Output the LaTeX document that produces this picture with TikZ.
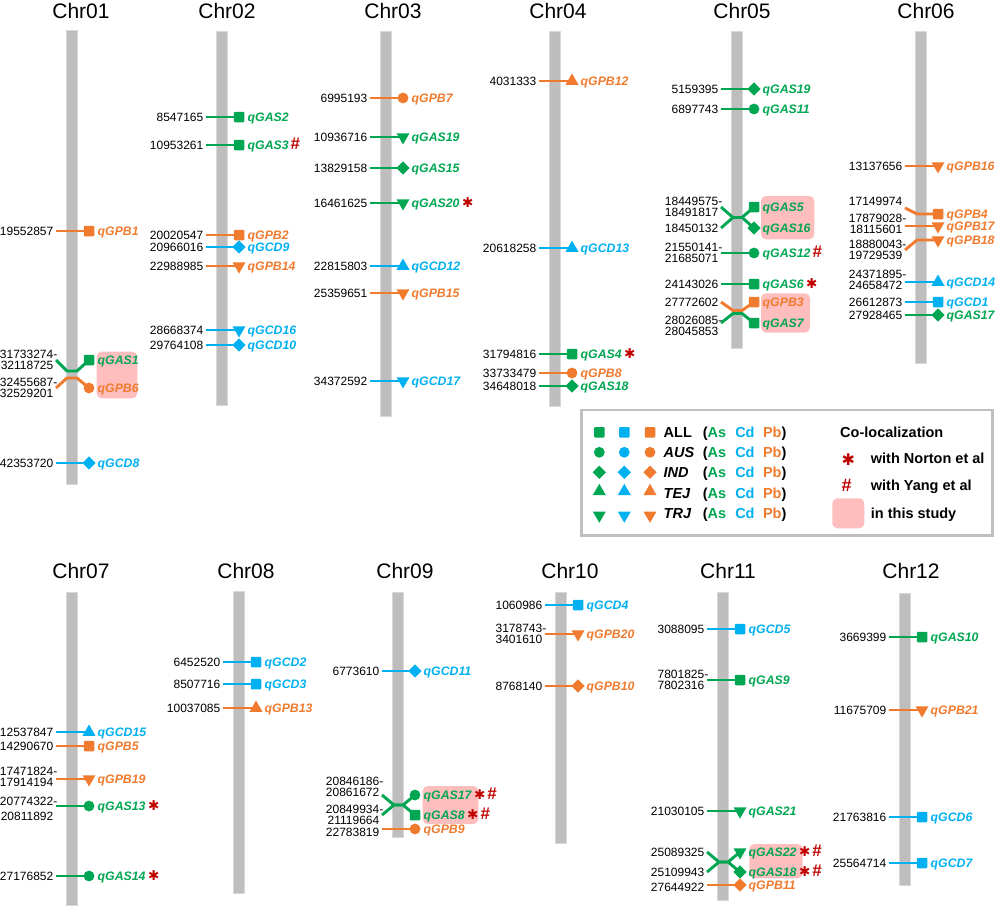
\documentclass[tikz,border=0pt]{standalone}
\usepackage{fontspec}
\setmainfont{Liberation Sans}
\newfontfamily\symfont{DejaVu Sans}
\usetikzlibrary{shapes.geometric}

\definecolor{asgreen}{RGB}{0,166,81}
\definecolor{cdblue}{RGB}{0,176,240}
\definecolor{pborange}{RGB}{240,122,45}
\definecolor{symred}{RGB}{192,0,0}
\definecolor{hlpink}{RGB}{255,190,190}
\definecolor{bargray}{RGB}{190,190,190}
\definecolor{framegray}{RGB}{191,191,191}

\tikzstyle{chrbar} = [fill=bargray, draw=bargray!60, line width=0.6pt]
\tikzstyle{chrname} = [font=\fontsize{21}{24}\selectfont, anchor=base, inner sep=0pt]
\tikzstyle{numtext} = [font=\fontsize{12}{11}\selectfont, align=right, anchor=east, inner sep=2.5pt]
\tikzstyle{qlabel} = [font=\fontsize{12.3}{14}\selectfont\bfseries\itshape, anchor=west, inner sep=0pt, text height=8.8pt, text depth=0pt]
\tikzstyle{qline} = [line width=2.9pt]
\tikzstyle{sqm} = [rectangle, draw=none, minimum size=10.5pt, inner sep=0pt, rounded corners=1pt]
\tikzstyle{cirm} = [circle, draw=none, minimum size=10.8pt, inner sep=0pt]
\tikzstyle{diam} = [diamond, draw=none, minimum size=13.5pt, inner sep=0pt]
\tikzstyle{tum} = [regular polygon, regular polygon sides=3, draw=none, minimum size=15pt, inner sep=0pt]
\tikzstyle{tdm} = [regular polygon, regular polygon sides=3, shape border rotate=180, draw=none, minimum size=15pt, inner sep=0pt]
\tikzstyle{hlbox} = [fill=hlpink, rounded corners=5pt]
\tikzstyle{legtext} = [font=\fontsize{14.5}{16}\selectfont\bfseries, anchor=west, inner sep=0pt, text height=10.4pt, text depth=0pt]

% hanging hyphen, Norton and Yang marks
\newcommand{\hy}{\rlap{-}}
\newcommand{\nor}{\hspace{2.5pt}{\normalfont\symfont\fontsize{13.5}{13.5}\selectfont\textcolor{symred}{✱}}}
\newcommand{\yan}{\hspace{2pt}{\normalfont\bfseries\fontsize{17}{17}\selectfont\textcolor{symred}{\#}}}

% [number options]{name}{bar x}{y}{colour}{marker}{position}{label}
\newcommand{\qtlnode}[8][]{%
  \coordinate (#2s) at (#3-16,#4);
  \node[numtext, #1] (#2n) at (#2s) {#7};
  \node[#6, fill=#5] (#2m) at (#3+17,#4) {};
  \node[qlabel, text=#5] (#2l) at (#3+25.5,#4) {#8};
}
\newcommand{\qtl}[8][]{%
  \qtlnode[#1]{#2}{#3}{#4}{#5}{#6}{#7}{#8}
  \draw[qline, draw=#5] (#2s) -- (#2m.center);
}

% {name}{y}{marker}{group}
\newcommand{\legrow}[4]{%
  \node[#3, fill=asgreen] (#1a) at (599.3,#2) {};
  \node[#3, fill=cdblue] (#1c) at (624.3,#2) {};
  \node[#3, fill=pborange] (#1p) at (650,#2) {};
  \node[legtext] (#1t) at (663.5,#2) {#4};
  \node[legtext] (#1e) at (702.7,#2) {(\textcolor{asgreen}{As}\hspace{9pt}\textcolor{cdblue}{Cd}\hspace{8.4pt}\textcolor{pborange}{Pb})};
}

\begin{document}
\begin{tikzpicture}[x=1pt, y=-1pt]
            \useasboundingbox (0,0) rectangle (1000,907);

            % Chromosome names
            \node[chrname] (t01) at (81,18.3) {Chr01};
            \node[chrname] (t02) at (227,18.3) {Chr02};
            \node[chrname] (t03) at (393,18.3) {Chr03};
            \node[chrname] (t04) at (558,18.3) {Chr04};
            \node[chrname] (t05) at (742,18.3) {Chr05};
            \node[chrname] (t06) at (926,18.3) {Chr06};
            \node[chrname] (t07) at (81,578.3) {Chr07};
            \node[chrname] (t08) at (246,578.3) {Chr08};
            \node[chrname] (t09) at (405,578.3) {Chr09};
            \node[chrname] (t10) at (570,578.3) {Chr10};
            \node[chrname] (t11) at (728,578.3) {Chr11};
            \node[chrname] (t12) at (911,578.3) {Chr12};

            % Chromosome bars
            \filldraw[chrbar] (66.7,30) rectangle (77.3,484);
            \filldraw[chrbar] (216.7,31) rectangle (227.3,405);
            \filldraw[chrbar] (380.7,31) rectangle (391.3,416);
            \filldraw[chrbar] (549.7,31) rectangle (560.3,406);
            \filldraw[chrbar] (731.7,31) rectangle (742.3,348);
            \filldraw[chrbar] (915.7,31) rectangle (926.3,363);
            \filldraw[chrbar] (66.7,592) rectangle (77.3,905);
            \filldraw[chrbar] (233.7,591) rectangle (244.3,893);
            \filldraw[chrbar] (392.7,592) rectangle (403.3,837);
            \filldraw[chrbar] (555.7,592) rectangle (566.3,843);
            \filldraw[chrbar] (717.7,592) rectangle (728.3,900);
            \filldraw[chrbar] (899.4,593) rectangle (910,885);

            % Co-localized in this study
            \fill[hlbox] (96.7,351.7) rectangle (137.3,398.3);
            \fill[hlbox] (761,196) rectangle (814.3,239.3);
            \fill[hlbox] (761,293.3) rectangle (810,332.7);
            \fill[hlbox] (422.7,786) rectangle (478.3,824);
            \fill[hlbox] (749.3,844) rectangle (802.7,878.3);

            % Chr01
            \qtl{ch01gpb1}{72}{231}{pborange}{sqm}{19552857}{qGPB1}
            \qtlnode{ch01gas1}{72}{360}{asgreen}{sqm}{31733274\hy\\32118725}{qGAS1}
            \qtlnode{ch01gpb6}{72}{388}{pborange}{cirm}{32455687\hy\\32529201}{qGPB6}
            \draw[qline, asgreen] (ch01gas1s) -- (67,371) -- (77,371) -- (ch01gas1m.center);
            \draw[qline, pborange] (ch01gpb6s) -- (67,378) -- (77,378) -- (ch01gpb6m.center);
            \qtl{ch01gcd8}{72}{463}{cdblue}{diam}{42353720}{qGCD8}

            % Chr02
            \qtl{ch02gas2}{222}{117}{asgreen}{sqm}{8547165}{qGAS2}
            \qtl{ch02gas3}{222}{145}{asgreen}{sqm}{10953261}{qGAS3\yan}
            \qtl{ch02gpb2}{222}{235}{pborange}{sqm}{20020547}{qGPB2}
            \qtl{ch02gcd9}{222}{247}{cdblue}{diam}{20966016}{qGCD9}
            \qtl{ch02gpb14}{222}{266}{pborange}{tdm}{22988985}{qGPB14}
            \qtl{ch02gcd16}{222}{330}{cdblue}{tdm}{28668374}{qGCD16}
            \qtl{ch02gcd10}{222}{345}{cdblue}{diam}{29764108}{qGCD10}

            % Chr03
            \qtl{ch03gpb7}{386}{98}{pborange}{cirm}{6995193}{qGPB7}
            \qtl{ch03gas19}{386}{137}{asgreen}{tdm}{10936716}{qGAS19}
            \qtl{ch03gas15}{386}{168}{asgreen}{diam}{13829158}{qGAS15}
            \qtl{ch03gas20}{386}{203}{asgreen}{tdm}{16461625}{qGAS20\nor}
            \qtl{ch03gcd12}{386}{266}{cdblue}{tum}{22815803}{qGCD12}
            \qtl{ch03gpb15}{386}{293}{pborange}{tdm}{25359651}{qGPB15}
            \qtl{ch03gcd17}{386}{381}{cdblue}{tdm}{34372592}{qGCD17}

            % Chr04
            \qtl{ch04gpb12}{555}{81}{pborange}{tum}{4031333}{qGPB12}
            \qtl{ch04gcd13}{555}{248}{cdblue}{tum}{20618258}{qGCD13}
            \qtl{ch04gas4}{555}{354}{asgreen}{sqm}{31794816}{qGAS4\nor}
            \qtl{ch04gpb8}{555}{373}{pborange}{cirm}{33733479}{qGPB8}
            \qtl{ch04gas18}{555}{386}{asgreen}{diam}{34648018}{qGAS18}

            % Chr05
            \qtl{ch05gas19}{737}{89}{asgreen}{diam}{5159395}{qGAS19}
            \qtl{ch05gas11}{737}{109}{asgreen}{cirm}{6897743}{qGAS11}
            \qtlnode{ch05gas5}{737}{207}{asgreen}{sqm}{18449575\hy\\18491817}{qGAS5}
            \qtlnode{ch05gas16}{737}{228}{asgreen}{diam}{18450132}{qGAS16}
            \draw[qline, asgreen] (ch05gas5s) -- (733,217.5) -- (742,217.5) -- (ch05gas5m.center);
            \draw[qline, asgreen] (ch05gas16s) -- (733,217.5) -- (742,217.5) -- (ch05gas16m.center);
            \qtl{ch05gas12}{737}{253}{asgreen}{cirm}{21550141\hy\\21685071}{qGAS12\yan}
            \qtl{ch05gas6}{737}{284}{asgreen}{sqm}{24143026}{qGAS6\nor}
            \qtlnode{ch05gpb3}{737}{302}{pborange}{sqm}{27772602}{qGPB3}
            \qtlnode[yshift=-2.5pt]{ch05gas7}{737}{323}{asgreen}{sqm}{28026085\hy\\28045853}{qGAS7}
            \draw[qline, pborange] (ch05gpb3s) -- (733,310.5) -- (742,310.5) -- (ch05gpb3m.center);
            \draw[qline, asgreen] (ch05gas7s) -- (733,313.5) -- (742,313.5) -- (ch05gas7m.center);

            % Chr06
            \qtl{ch06gpb16}{921}{166}{pborange}{tdm}{13137656}{qGPB16}
            \qtlnode[yshift=13pt]{ch06gpb4}{921}{214}{pborange}{sqm}{17149974}{qGPB4}
            \draw[qline, pborange] (ch06gpb4n.south east) -- (917,214) -- (ch06gpb4m.center);
            \qtl[yshift=1.7pt]{ch06gpb17}{921}{226}{pborange}{tdm}{17879028\hy\\18115601}{qGPB17}
            \qtlnode[yshift=-10pt]{ch06gpb18}{921}{240}{pborange}{tdm}{18880043\hy\\19729539}{qGPB18}
            \draw[qline, pborange] (ch06gpb18n.east) -- (917,240) -- (ch06gpb18m.center);
            \qtl[yshift=2pt]{ch06gcd14}{921}{282}{cdblue}{tum}{24371895\hy\\24658472}{qGCD14}
            \qtl{ch06gcd1}{921}{302}{cdblue}{sqm}{26612873}{qGCD1}
            \qtl{ch06gas17}{921}{315}{asgreen}{diam}{27928465}{qGAS17}

            % Chr07
            \qtl{ch07gcd15}{72}{732}{cdblue}{tum}{12537847}{qGCD15}
            \qtl{ch07gpb5}{72}{746}{pborange}{sqm}{14290670}{qGPB5}
            \qtl[yshift=2pt]{ch07gpb19}{72}{779}{pborange}{tdm}{17471824\hy\\17914194}{qGPB19}
            \qtl[yshift=-2.6pt]{ch07gas13}{72}{806}{asgreen}{cirm}{20774322\hy\\[4.3pt]20811892}{qGAS13\nor}
            \qtl{ch07gas14}{72}{876}{asgreen}{cirm}{27176852}{qGAS14\nor}

            % Chr08
            \qtl{ch08gcd2}{239}{662}{cdblue}{sqm}{6452520}{qGCD2}
            \qtl{ch08gcd3}{239}{684}{cdblue}{sqm}{8507716}{qGCD3}
            \qtl{ch08gpb13}{239}{708}{pborange}{tum}{10037085}{qGPB13}

            % Chr09
            \qtl{ch09gcd11}{398}{671}{cdblue}{diam}{6773610}{qGCD11}
            \qtlnode[yshift=8pt]{ch09gas17}{398}{795}{asgreen}{cirm}{20846186\hy\\20861672}{qGAS17\nor\yan}
            \qtlnode{ch09gas8}{398}{815}{asgreen}{sqm}{20849934\hy\\21119664}{qGAS8\nor\yan}
            \draw[qline, asgreen] (ch09gas17s) -- (394,805) -- (403,805) -- (ch09gas17m.center);
            \draw[qline, asgreen] (ch09gas8s) -- (394,805) -- (403,805) -- (ch09gas8m.center);
            \qtl[yshift=-3pt]{ch09gpb9}{398}{829}{pborange}{cirm}{22783819}{qGPB9}

            % Chr10
            \qtl{ch10gcd4}{561}{605}{cdblue}{sqm}{1060986}{qGCD4}
            \qtl{ch10gpb20}{561}{634}{pborange}{tdm}{3178743\hy\\3401610}{qGPB20}
            \qtl{ch10gpb10}{561}{686}{pborange}{diam}{8768140}{qGPB10}

            % Chr11
            \qtl{ch11gcd5}{723}{629}{cdblue}{sqm}{3088095}{qGCD5}
            \qtl{ch11gas9}{723}{680}{asgreen}{sqm}{7801825\hy\\7802316}{qGAS9}
            \qtl{ch11gas21}{723}{811}{asgreen}{tdm}{21030105}{qGAS21}
            \qtlnode{ch11gas22}{723}{852}{asgreen}{tdm}{25089325}{qGAS22\nor\yan}
            \qtlnode{ch11gas18}{723}{872}{asgreen}{diam}{25109943}{qGAS18\nor\yan}
            \draw[qline, asgreen] (ch11gas22s) -- (719,862) -- (728,862) -- (ch11gas22m.center);
            \draw[qline, asgreen] (ch11gas18s) -- (719,862) -- (728,862) -- (ch11gas18m.center);
            \qtl[yshift=-2pt]{ch11gpb11}{723}{885}{pborange}{diam}{27644922}{qGPB11}

            % Chr12
            \qtl{ch12gas10}{905}{637}{asgreen}{sqm}{3669399}{qGAS10}
            \qtl{ch12gpb21}{905}{710}{pborange}{tdm}{11675709}{qGPB21}
            \qtl{ch12gcd6}{905}{817}{cdblue}{sqm}{21763816}{qGCD6}
            \qtl{ch12gcd7}{905}{863}{cdblue}{sqm}{25564714}{qGCD7}

            % Legend
            \draw[framegray, line width=2.5pt] (581.5,410) rectangle (992.5,535.5);
            \legrow{all}{432.3}{sqm}{ALL}
            \legrow{aus}{452.3}{cirm}{\itshape AUS}
            \legrow{ind}{472.3}{diam}{\itshape IND}
            \legrow{tej}{493.3}{tum, yshift=2pt}{\itshape TEJ}
            \legrow{trj}{513.3}{tdm, yshift=-2pt}{\itshape TRJ}
            \node[legtext] (coloc) at (840,432) {Co-localization};
            \node[inner sep=0pt, text=symred, font=\symfont\fontsize{16}{16}\selectfont] (norsym) at (848.3,459.3) {✱};
            \node[inner sep=0pt, text=symred, font=\fontsize{18}{18}\selectfont\bfseries] (yansym) at (846.7,485) {\#};
            \node[legtext] (nortxt) at (870.7,458.7) {with Norton et al};
            \node[legtext] (yantxt) at (870.7,485) {with Yang et al};
            \fill[hlbox] (832.3,498.3) rectangle (864.3,528.3);
            \node[legtext] (studytxt) at (870.7,513.3) {in this study};
\end{tikzpicture}
\end{document}
